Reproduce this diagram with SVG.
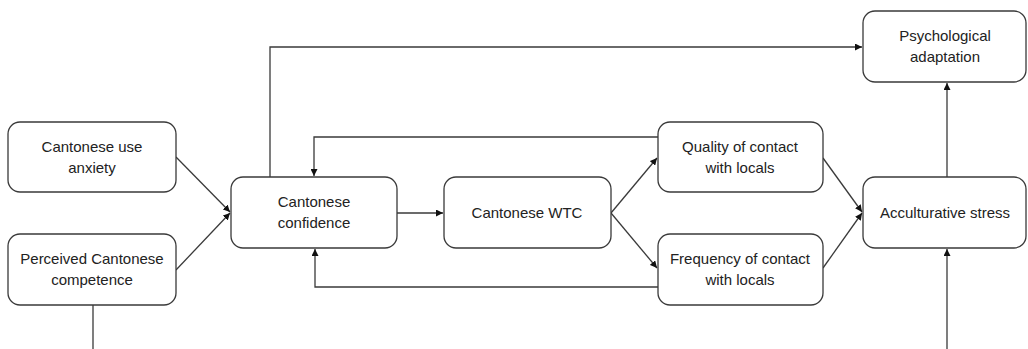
<svg xmlns="http://www.w3.org/2000/svg" width="1028" height="349" viewBox="0 0 1028 349">
<style>
.box{fill:#fff;stroke:#3a3a3a;stroke-width:1.3}
.t{font-family:"Liberation Sans",Arial,sans-serif;font-size:15px;fill:#222;text-anchor:middle}
.c{fill:none;stroke:#3a3a3a;stroke-width:1.3}
</style>
<defs>
<marker id="ah" viewBox="0 0 10 10" refX="10" refY="5" markerWidth="7" markerHeight="7" markerUnits="userSpaceOnUse" orient="auto">
<path d="M0,0 L10,5 L0,10 z" fill="#111"/>
</marker>
</defs>
<rect width="1028" height="349" fill="#fff"/>
<g id="connectors">
<path class="c" d="M176,157 L230,212" marker-end="url(#ah)"/>
<path class="c" d="M176,270 L230,213" marker-end="url(#ah)"/>
<path class="c" d="M93,305 L93,349"/>
<path class="c" d="M270,177 L270,47 L862,47" marker-end="url(#ah)"/>
<path class="c" d="M658,137 L314,137 L314,176" marker-end="url(#ah)"/>
<path class="c" d="M658,287 L315,287 L315,249" marker-end="url(#ah)"/>
<path class="c" d="M397,213 L443,213" marker-end="url(#ah)"/>
<path class="c" d="M611,213 L657,158" marker-end="url(#ah)"/>
<path class="c" d="M611,213 L657,268" marker-end="url(#ah)"/>
<path class="c" d="M823,158 L862,212" marker-end="url(#ah)"/>
<path class="c" d="M823,268 L862,213" marker-end="url(#ah)"/>
<path class="c" d="M947,177 L947,83" marker-end="url(#ah)"/>
<path class="c" d="M947,349 L947,249" marker-end="url(#ah)"/>
</g>
<g id="anxiety">
<rect class="box" x="8" y="122" width="168" height="70" rx="12"/>
<text class="t" x="92" y="152">Cantonese use</text>
<text class="t" x="92" y="173">anxiety</text>
</g>
<g id="competence">
<rect class="box" x="8" y="234" width="168" height="71" rx="12"/>
<text class="t" x="92" y="264">Perceived Cantonese</text>
<text class="t" x="92" y="285">competence</text>
</g>
<g id="confidence">
<rect class="box" x="231" y="177" width="166" height="71" rx="12"/>
<text class="t" x="314" y="207">Cantonese</text>
<text class="t" x="314" y="228">confidence</text>
</g>
<g id="wtc">
<rect class="box" x="444" y="177" width="167" height="71" rx="12"/>
<text class="t" x="527" y="218">Cantonese WTC</text>
</g>
<g id="quality">
<rect class="box" x="658" y="122" width="165" height="70" rx="12"/>
<text class="t" x="740" y="152">Quality of contact</text>
<text class="t" x="740" y="173">with locals</text>
</g>
<g id="frequency">
<rect class="box" x="658" y="234" width="165" height="71" rx="12"/>
<text class="t" x="740" y="264">Frequency of contact</text>
<text class="t" x="740" y="285">with locals</text>
</g>
<g id="stress">
<rect class="box" x="863" y="177" width="163" height="71" rx="12"/>
<text class="t" x="945" y="218">Acculturative stress</text>
</g>
<g id="psych">
<rect class="box" x="863" y="11" width="163" height="71" rx="12"/>
<text class="t" x="945" y="41">Psychological</text>
<text class="t" x="945" y="62">adaptation</text>
</g>
</svg>
